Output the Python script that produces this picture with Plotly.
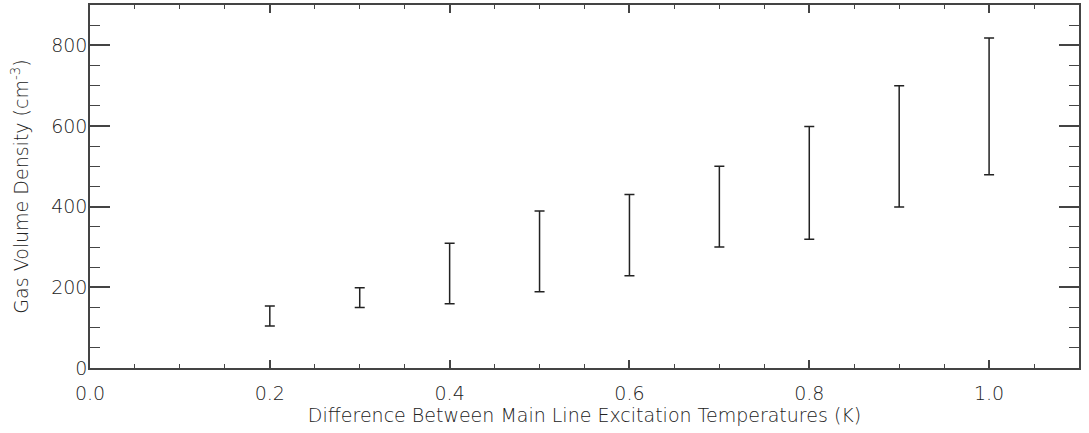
import plotly.graph_objects as go

x_vals = [0.2, 0.3, 0.4, 0.5, 0.6, 0.7, 0.8, 0.9, 1.0]
y_low = [104, 150, 159, 189, 229, 300, 319, 399, 479]
y_high = [154, 199, 309, 389, 430, 500, 599, 700, 818]

x_title = "Difference Between Main Line Excitation Temperatures (K)"
y_title = "Gas Volume Density (cm<sup>-3</sup>)"

mid = [(a + b) / 2 for a, b in zip(y_low, y_high)]
half = [(b - a) / 2 for a, b in zip(y_low, y_high)]

fig = go.Figure()
fig.add_trace(go.Scatter(
    x=x_vals, y=mid, mode="markers",
    marker=dict(size=1, color="rgba(0,0,0,0)"),
    error_y=dict(type="data", array=half, symmetric=True,
                 color="#222", thickness=1.5, width=5),
    showlegend=False,
))

font = dict(family="DejaVu Sans", size=19, color="#222", weight=200)
axis_common = dict(showline=True, linecolor="#444", linewidth=1.5, mirror="ticks",
                   ticks="inside", tickcolor="#444", tickwidth=1.5,
                   showgrid=False, zeroline=False, tickfont=font, automargin=False)

fig.update_xaxes(range=[0, 1.1], tickvals=[0, 0.2, 0.4, 0.6, 0.8, 1.0],
                 ticktext=["0.0", "0.2", "0.4", "0.6", "0.8", "1.0"], ticklen=8,
                 ticklabelstandoff=7,
                 minor=dict(dtick=0.05, tick0=0, ticks="inside", ticklen=4,
                            tickcolor="#444", tickwidth=1.2, showgrid=False),
                 title=dict(text=x_title, font=font, standoff=0),
                 **axis_common)
fig.update_yaxes(range=[0, 900], tickvals=[0, 200, 400, 600, 800], ticklen=20,
                 ticklabelstandoff=-3,
                 minor=dict(dtick=50, tick0=0, ticks="inside", ticklen=10,
                            tickcolor="#444", tickwidth=1.2, showgrid=False),
                 title=dict(text=y_title, font=font, standoff=18),
                 **axis_common)

fig.update_layout(width=1089, height=433, margin=dict(l=90, r=10, t=5, b=65),
                  plot_bgcolor="white", paper_bgcolor="white")
fig.write_html("out.html", config={"displayModeBar": False},
               post_script="document.body.style.margin='0';")
